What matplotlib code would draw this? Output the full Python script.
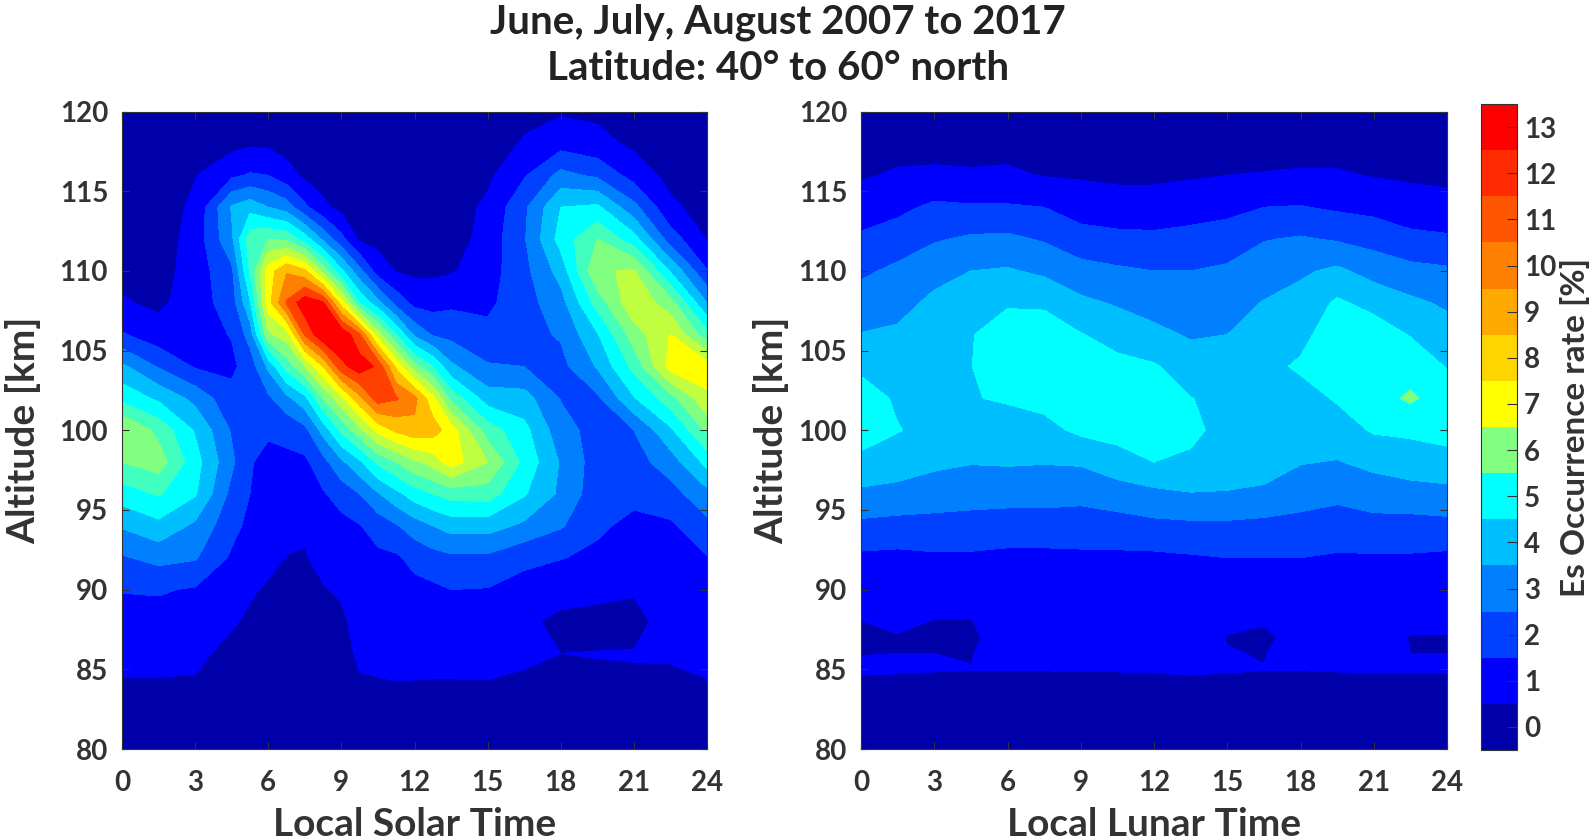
import numpy as np
import matplotlib
matplotlib.use('Agg')
import matplotlib.pyplot as plt
from matplotlib.colors import ListedColormap, BoundaryNorm
from matplotlib.cm import ScalarMappable

plt.rcParams['font.family'] = ['Lato', 'DejaVu Sans']
plt.rcParams['font.weight'] = 'bold'

solar_hours = [0, 1.5, 3, 4.5, 5.25, 6, 6.75, 7.5, 8.25, 9, 9.75, 10.5, 11.25, 12, 12.75, 13.5, 15, 16.5, 18, 19.5, 21, 22.5, 24]
lunar_hours = [0, 1.5, 3, 4.5, 6, 7.5, 9, 10.5, 12, 13.5, 15, 16.5, 18, 19.5, 21, 22.5, 24]
solar_alt = [80, 82, 84, 86, 88, 90, 92, 94, 96, 98, 100, 102, 104, 106, 108, 110, 112, 114, 116, 118, 120]
lunar_alt = [80, 84, 85, 86, 87, 88, 90, 92, 94, 96, 98, 100, 102, 104, 106, 108, 110, 112, 114, 116, 118, 120]

# one row per hour, bottom to top
solar_rate = [
    [0, 0, .4, .8, 1.1, 1.55, 2.4, 3.6, 5, 6.5, 7.6, 5.2, 3.7, 1.6, .6, .2, 0, 0, 0, 0, 0],
    [0, 0, .4, .8, 1.1, 1.6, 2.8, 4.2, 5.6, 7.0, 6.2, 4.3, 2.4, .9, .3, .1, 0, 0, 0, 0, 0],
    [0, 0, .4, .7, 1.0, 1.4, 2.6, 3.3, 4.6, 4.9, 4.4, 3.2, 1.4, 1.1, 1, .95, .9, .7, .45, .2, 0],
    [0, 0, .1, .25, .6, .95, 1.35, 1.8, 2.2, 2.7, 2.4, 1.8, 1.3, 1.55, 2.0, 2.3, 3.3, 3.6, 1.3, .2, 0],
    [0, 0, .1, .2, .35, .6, .9, 1.25, 1.5, 1.55, 1.55, 1.5, 1.95, 2.9, 4.4, 5.6, 6.1, 4.1, 1.6, .35, 0],
    [0, 0, .1, .2, .3, .4, .7, .95, 1.1, 1.3, 1.6, 2.3, 3.7, 7.3, 9.1, 9.0, 6.5, 3.5, 1.5, .3, 0],
    [0, 0, .05, .1, .25, .4, .48, .75, 1.05, 1.3, 1.75, 3.2, 5.9, 8.0, 11.6, 10.4, 6.3, 3.0, .9, .1, 0],
    [0, 0, .05, .1, .2, .3, .45, .6, .95, 1.3, 2.2, 4.2, 7.5, 11.6, 13.2, 9.7, 5.0, 1.7, .3, 0, 0],
    [0, 0, .05, .15, .25, .45, .7, 1, 1.4, 2.15, 3.85, 6.5, 9.5, 13.4, 12.6, 7.1, 3.3, .7, .05, 0, 0],
    [0, 0, .05, .2, .35, .6, .9, 1.2, 1.9, 3.3, 5.7, 8.2, 12.2, 13.4, 9.0, 4.7, 1.8, .2, 0, 0, 0],
    [0, 0, .4, .65, .8, .95, 1.15, 1.45, 2.5, 4.3, 7.2, 10.2, 13.1, 11.6, 5.4, 2.8, .35, 0, 0, 0, 0],
    [0, 0, .4, .8, .95, 1.1, 1.3, 1.9, 3.4, 5.7, 8.8, 12.0, 12.3, 8.0, 3.8, 1.0, .2, 0, 0, 0, 0],
    [0, 0, .45, .8, .95, 1.15, 1.35, 2.4, 4.2, 6.5, 9.7, 11.6, 9.3, 5.5, 2.1, .45, .05, 0, 0, 0, 0],
    [0, 0, .45, .75, .9, 1.2, 1.8, 3.0, 5.0, 7.3, 10.2, 10.8, 6.9, 3.3, 1.2, .3, 0, 0, 0, 0, 0],
    [0, 0, .45, .7, .9, 1.3, 2.1, 3.5, 5.5, 7.9, 10, 8.8, 5.5, 2.4, 1.1, .3, 0, 0, 0, 0, 0],
    [0, 0, .45, .7, 1, 1.5, 2.3, 3.9, 5.9, 9.0, 9.0, 6.2, 3.7, 2.2, 1.3, .4, 0, 0, 0, 0, 0],
    [0, 0, .45, .75, 1, 1.45, 2.3, 3.9, 6, 7.5, 6, 4, 2.6, 1.75, 1.3, 1.05, .9, .7, .3, .05, 0],
    [0, 0, .4, .6, .6, 1.2, 1.7, 3.3, 4.6, 5.2, 4.8, 3.9, 2.5, 2.2, 2.1, 2.2, 2.4, 2.3, 1.4, .6, .2],
    [0, .05, .45, .5, .38, .7, 1.55, 2.6, 3.3, 3.4, 2.9, 2.45, 2.2, 2.6, 3.1, 3.9, 4.9, 4.5, 2.8, 1.1, .4],
    [0, .05, .45, .51, .38, .6, 1.25, 1.7, 1.9, 2, 2.1, 2.3, 3.6, 4.4, 5.9, 7.4, 6.5, 4.7, 2.3, .8, .3],
    [0, .05, .45, .52, .35, .55, .8, 1.2, 1.8, 2.1, 2.5, 4.4, 5.8, 7.0, 8.3, 7.6, 4.9, 2.8, 1.1, .3, .1],
    [0, 0, .4, .55, .7, .9, 1, 1.35, 2.1, 3.0, 4.3, 6.1, 8.9, 8.55, 6.9, 4.4, 2, .7, .2, 0, 0],
    [0, 0, .45, .7, .85, 1, 1.45, 2.2, 3.2, 4.8, 6.7, 8.3, 9, 5.9, 3.5, 1.55, .45, .1, 0, 0, 0],
]

lunar_rate = [
    [0, .4, .56, .49, .42, .49, .85, 1.3, 2.26, 3.3, 4.23, 5.0, 5.0, 4.28, 3.54, 2.94, 2.33, 1.67, .98, .4, .1, 0],
    [0, .4, .54, .5, .47, .6, .9, 1.25, 2.15, 3.2, 3.97, 4.55, 4.35, 4.0, 3.65, 3.2, 2.7, 2.0, 1.25, .6, .2, 0],
    [0, .4, .52, .5, .35, .48, .85, 1.35, 2.15, 3.0, 3.7, 4.2, 4.4, 4.3, 4.0, 3.7, 3.2, 2.4, 1.7, .65, .2, 0],
    [0, .4, .51, .48, .42, .48, .9, 1.35, 2.1, 2.9, 3.55, 4.1, 4.45, 4.48, 4.45, 4.1, 3.5, 2.65, 1.6, .6, .2, 0],
    [0, .4, .51, .7, .72, .75, .95, 1.25, 2.05, 2.85, 3.6, 4.05, 4.6, 5, 4.95, 4.4, 3.6, 2.7, 1.6, .65, .2, 0],
    [0, .4, .51, .7, .72, .75, .95, 1.25, 2.05, 2.85, 3.55, 4.2, 4.8, 5.1, 5, 4.35, 3.3, 2.4, 1.5, .45, .1, 0],
    [0, .4, .52, .7, .72, .8, 1.0, 1.35, 1.9, 2.85, 3.6, 4.7, 5, 5, 4.55, 3.7, 2.85, 1.9, 1.05, .4, .1, 0],
    [0, .4, .52, .7, .72, .8, 1.0, 1.3, 2.1, 3.0, 4.1, 4.85, 5.1, 4.8, 4.1, 3.4, 2.65, 1.75, .95, .3, .05, 0],
    [0, .4, .53, .7, .72, .8, 1.0, 1.3, 2.25, 3.25, 4.5, 4.9, 4.95, 4.6, 3.75, 3.1, 2.5, 1.7, .95, .3, .05, 0],
    [0, .4, .56, .7, .72, .8, 1.0, 1.4, 2.3, 3.45, 4.35, 4.7, 4.52, 4.0, 3.4, 3.0, 2.5, 1.8, 1.1, .4, .05, 0],
    [0, .4, .53, .52, .48, .6, .9, 1.5, 2.3, 3.45, 3.9, 4.2, 4.3, 4.0, 3.5, 3.1, 2.65, 2.0, 1.2, .5, .1, 0],
    [0, .4, .51, .48, .38, .55, .9, 1.5, 2.2, 3.35, 3.85, 4.2, 4.35, 4.2, 3.9, 3.55, 3.0, 2.45, 1.5, .55, .1, 0],
    [0, .4, .51, .7, .72, .8, 1.0, 1.5, 2.15, 2.95, 3.55, 3.95, 4.1, 4.65, 4.2, 3.85, 3.35, 2.6, 1.55, .6, .15, 0],
    [0, .4, .52, .7, .72, .8, 1.0, 1.4, 2.0, 2.75, 3.45, 4.05, 4.6, 5.0, 5.1, 4.65, 3.7, 2.4, 1.35, .6, .15, 0],
    [0, .4, .54, .7, .72, .8, 1.0, 1.4, 2.15, 3.0, 3.75, 4.6, 5.1, 5.2, 5, 4.2, 3.1, 2.15, 1.2, .45, .1, 0],
    [0, .4, .54, .5, .48, .6, .9, 1.4, 2.1, 3.15, 3.95, 4.7, 5.65, 5.1, 4.45, 3.7, 2.8, 1.75, .95, .35, .05, 0],
    [0, .4, .53, .5, .48, .6, .9, 1.3, 2.2, 3.2, 4.15, 4.85, 5.0, 4.45, 3.9, 3.35, 2.65, 1.65, .8, .3, .05, 0],
]

alt_ticks = [80, 85, 90, 95, 100, 105, 110, 115, 120]
hour_ticks = [0, 3, 6, 9, 12, 15, 18, 21, 24]
rate_ticks = list(range(14))

# the left panel and the colorbar do not share the same colours above cyan
solar_colors = ['#0000AA', '#0000FF', '#0040FF', '#0080FF', '#00BFFF', '#00FFFF', '#40FFBF',
                '#80FF80', '#BFFF40', '#FFFF00', '#FFBF00', '#FF8000', '#FF4000', '#FF0000']
lunar_colors = ['#0000AA', '#0000FF', '#0040FF', '#0080FF', '#00BFFF', '#00FFFF', '#80FF80',
                '#FFFF00', '#FFD500', '#FFAA00', '#FF8000', '#FF5500', '#FF2A00', '#FF0000']

levels = np.arange(-0.5, 14, 1)
text_color = '#333333'
W, H = 1594, 840


def panel_axes(x0, x1, y0=111.5, y1=749):
    return fig.add_axes((x0 / W, 1 - y1 / H, (x1 - x0) / W, (y1 - y0) / H))


def draw_panel(ax, hours, alts, rate, colors, xlabel, ypad):
    cmap = ListedColormap(colors)
    norm = BoundaryNorm(levels, cmap.N)
    ax.contourf(hours, alts, np.array(rate).T, levels=levels, cmap=cmap, norm=norm)
    ax.set_xlim(0, 24)
    ax.set_ylim(80, 120)
    ax.set_xticks(hour_ticks)
    ax.set_yticks(alt_ticks)
    ax.tick_params(direction='in', top=True, right=True, length=5, width=0.8,
                   labelsize=20, colors=text_color)
    ax.tick_params(axis='x', pad=15)
    ax.tick_params(axis='y', pad=10)
    ax.set_xlabel(xlabel, fontsize=28, fontweight='bold', color=text_color, labelpad=8)
    ax.set_ylabel('Altitude [km]', fontsize=28, fontweight='bold', color=text_color, labelpad=ypad)
    for s in ax.spines.values():
        s.set_linewidth(0.8)
        s.set_color(text_color)


fig = plt.figure(figsize=(W / 100, H / 100), dpi=100)

ax1 = panel_axes(122, 707)
ax2 = panel_axes(861, 1447)
draw_panel(ax1, solar_hours, solar_alt, solar_rate, solar_colors, 'Local Solar Time', 13)
draw_panel(ax2, lunar_hours, lunar_alt, lunar_rate, lunar_colors, 'Local Lunar Time', 7)

cax = panel_axes(1481, 1517, y0=104, y1=750)
cmap_bar = ListedColormap(lunar_colors)
cb = fig.colorbar(ScalarMappable(norm=BoundaryNorm(levels, cmap_bar.N), cmap=cmap_bar), cax=cax,
                  ticks=rate_ticks, spacing='proportional')
cb.ax.tick_params(direction='in', length=7, width=0.8, labelsize=20, colors=text_color, pad=5)
cb.minorticks_off()
cb.outline.set_linewidth(0.8)
cb.outline.set_edgecolor(text_color)
cb.set_label('Es Occurrence rate [%]', fontsize=24, fontweight='bold', color=text_color, labelpad=3)

fig.text(778 / W, 1 - 22 / H, 'June, July, August 2007 to 2017', ha='center', va='center',
         fontsize=29, fontweight='bold', color='#222222')
fig.text(778 / W, 1 - 68 / H, 'Latitude: 40° to 60° north', ha='center', va='center',
         fontsize=29, fontweight='bold', color='#222222')

fig.savefig('out.png', dpi=100)
